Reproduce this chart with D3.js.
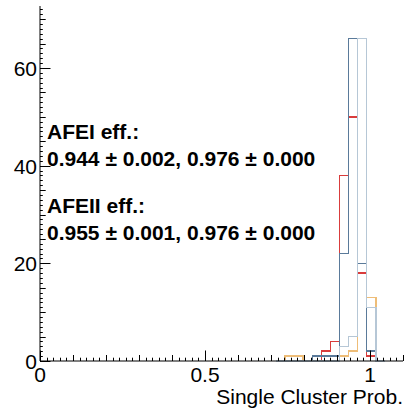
<!DOCTYPE html>
<html>
<head>
<meta charset="utf-8">
<script src="https://cdn.jsdelivr.net/npm/d3@7"></script>
<style>
  html, body { margin: 0; padding: 0; background: #fff; }
  svg { display: block; }
  text { font-family: "Liberation Sans", Arial, Helvetica, sans-serif; fill: #000; }
</style>
</head>
<body>
<svg id="chart" width="406" height="414"></svg>
<script>
// Histogram binning: 40 bins over [0, 1.1]; only the populated region is listed.
const binWidth = 0.0275;
const binLow = [0.715, 0.7425, 0.77, 0.7975, 0.825, 0.8525, 0.88, 0.9075, 0.935, 0.9625, 0.99, 1.0175];

// Counts per bin for each histogram
const afeiA  = [0, 0, 0, 0, 0, 2, 4, 38, 50, 18, 1, 0];   // red
const afeiB  = [0, 0, 0, 0, 1, 1, 1, 22, 66, 20, 2, 0];   // dark blue
const afeiiA = [0, 1, 1, 0, 0, 0, 0, 1, 2, 66, 13, 0];    // orange
const afeiiB = [0, 0, 0, 0, 0, 0, 0, 3, 5, 66, 11, 0];    // light blue

const xTickValues = [0, 0.5, 1];
const xTickLabels = ["0", "0.5", "1"];
const yTickValues = [0, 20, 40, 60];
const yTickLabels = ["0", "20", "40", "60"];

const legendLines = [
  "AFEI eff.:",
  "0.944 \u00b1 0.002, 0.976 \u00b1 0.000",
  "AFEII eff.:",
  "0.955 \u00b1 0.001, 0.976 \u00b1 0.000"
];
const xTitle = "Single Cluster Prob.";

const series = [
  { values: afeiA,  color: "#d93c3c" },
  { values: afeiB,  color: "#5a7a9a" },
  { values: afeiiA, color: "#eebd78" },
  { values: afeiiB, color: "#b6c7d6" }
];

const svg = d3.select("#chart");
const x = d3.scaleLinear().domain([0, 1.1]).range([40, 403]);
const y = d3.scaleLinear().domain([0, 72.7]).range([361, 6]);

// Step outline of a histogram, like a ROOT "hist" draw
function stepPath(values) {
  const pts = [];
  pts.push([x(binLow[0]), y(0)]);
  values.forEach((v, i) => {
    pts.push([x(binLow[i]), y(v)]);
    pts.push([x(binLow[i] + binWidth), y(v)]);
  });
  pts.push([x(binLow[binLow.length - 1] + binWidth), y(0)]);
  return d3.line()(pts);
}

series.forEach(s => {
  svg.append("path")
    .attr("d", stepPath(s.values))
    .attr("fill", "none")
    .attr("stroke", s.color)
    .attr("stroke-width", 1.5)
    .attr("shape-rendering", "crispEdges");
});

// X axis: ticks pointing up into the plot
const xAxisG = svg.append("g");
xAxisG.append("line")
  .attr("x1", x(0)).attr("x2", x(1.1))
  .attr("y1", y(0)).attr("y2", y(0))
  .attr("stroke", "#000").attr("stroke-width", 1);
const xMinor = d3.range(0, 56).map(i => i * 0.02).filter(v => v <= 1.1 + 1e-9);
xAxisG.selectAll("line.tick").data(xMinor).enter().append("line")
  .attr("x1", d => Math.round(x(d)) + 0.5).attr("x2", d => Math.round(x(d)) + 0.5)
  .attr("y1", y(0))
  .attr("y2", d => {
    const k = Math.round(d * 50);
    if (k % 25 === 0) return y(0) - 10.5;
    if (k % 5 === 0) return y(0) - 6;
    return y(0) - 3.3;
  })
  .attr("stroke", "#000").attr("stroke-width", 1);
xAxisG.selectAll("text").data(xTickValues).enter().append("text")
  .attr("x", d => x(d))
  .attr("y", 382)
  .attr("text-anchor", "middle")
  .attr("font-size", 21)
  .text((d, i) => xTickLabels[i]);

// Y axis: ticks pointing right into the plot
const yAxisG = svg.append("g");
yAxisG.append("line")
  .attr("x1", x(0)).attr("x2", x(0))
  .attr("y1", y(0)).attr("y2", y(72.7))
  .attr("stroke", "#000").attr("stroke-width", 1);
const yMinor = d3.range(0, 73);
yAxisG.selectAll("line.tick").data(yMinor).enter().append("line")
  .attr("x1", x(0))
  .attr("x2", d => {
    if (d % 20 === 0) return x(0) + 10.5;
    if (d % 5 === 0) return x(0) + 5.7;
    return x(0) + 2.8;
  })
  .attr("y1", d => Math.round(y(d)) + 0.5).attr("y2", d => Math.round(y(d)) + 0.5)
  .attr("stroke", "#000").attr("stroke-width", 1);
yAxisG.selectAll("text").data(yTickValues).enter().append("text")
  .attr("x", 37)
  .attr("y", d => y(d) + 8)
  .attr("text-anchor", "end")
  .attr("font-size", 21)
  .text((d, i) => yTickLabels[i]);

// Axis title
svg.append("text")
  .attr("x", 403)
  .attr("y", 404)
  .attr("text-anchor", "end")
  .attr("font-size", 21)
  .text(xTitle);

// Efficiency annotations
const legendBaselines = [139, 166, 213, 240];
svg.selectAll("text.legend").data(legendLines).enter().append("text")
  .attr("class", "legend")
  .attr("x", 47)
  .attr("y", (d, i) => legendBaselines[i])
  .attr("font-size", 21)
  .attr("font-weight", "bold")
  .text(d => d);
</script>
</body>
</html>
